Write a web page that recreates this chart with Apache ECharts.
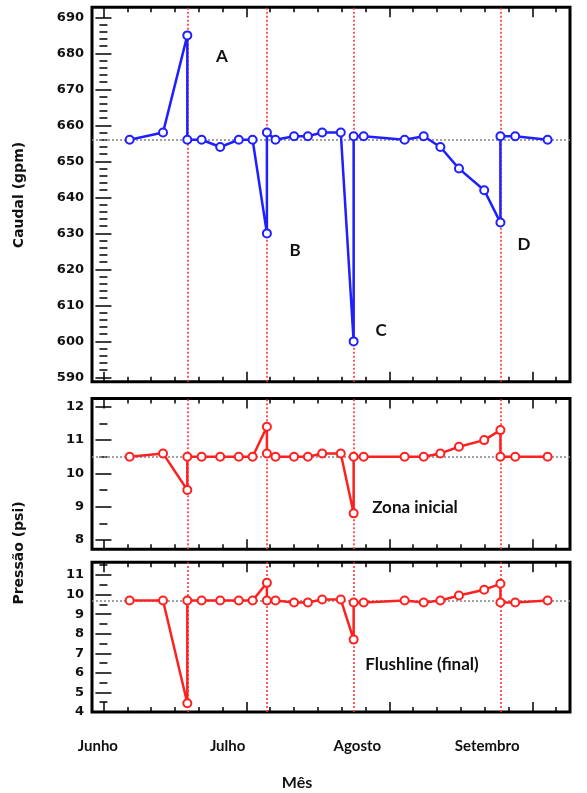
<!DOCTYPE html>
<html>
<head>
<meta charset="utf-8">
<script src="https://cdn.jsdelivr.net/npm/echarts@6/dist/echarts.min.js"></script>
<style>
  html, body { margin: 0; padding: 0; background: #fff; }
  #main { width: 587px; height: 793px; }
</style>
</head>
<body>
<div id="main"></div>
<script>
// dias contados a partir do início de junho
var dias = [5.5, 12.5, 17.6, 17.6, 20.6, 24.5, 28.4, 31.3, 34.3, 34.3, 36.1, 40, 42.9, 45.9, 49.8,
  52.5, 52.5, 54.6, 63.2, 67.2, 70.7, 74.6, 79.9, 83.3, 83.3, 86.4, 93.2];
var caudal = [656, 658, 685, 656, 656, 654, 656, 656, 630, 658, 656, 657, 657, 658, 658,
  600, 657, 657, 656, 657, 654, 648, 642, 633, 657, 657, 656];
var pressaoInicial = [10.5, 10.6, 9.5, 10.5, 10.5, 10.5, 10.5, 10.5, 11.4, 10.6, 10.5, 10.5, 10.5, 10.6, 10.6,
  8.8, 10.5, 10.5, 10.5, 10.5, 10.6, 10.8, 11.0, 11.3, 10.5, 10.5, 10.5];
var pressaoFinal = [9.7, 9.7, 4.45, 9.7, 9.7, 9.7, 9.7, 9.7, 10.6, 9.7, 9.7, 9.6, 9.6, 9.75, 9.75,
  7.7, 9.6, 9.6, 9.7, 9.6, 9.7, 9.95, 10.25, 10.55, 9.6, 9.6, 9.7];
var eventos = [17.6, 34.3, 52.5, 83.3];
var referencias = [656, 10.5, 9.7];
var meses = ["Junho", "Julho", "Agosto", "Setembro"];
var caudalTicks = [590, 600, 610, 620, 630, 640, 650, 660, 670, 680, 690];
var pressaoInicialTicks = [8, 9, 10, 11, 12];
var pressaoFinalTicks = [4, 5, 6, 7, 8, 9, 10, 11];
var xTicks = [0, 30, 60, 90];

function range(a, b, step) {
  var out = [];
  for (var v = a; v <= b + 1e-9; v += step) out.push(Math.round(v * 100) / 100);
  return out;
}

var xMin = -2.4, xMax = 97.9;
var paineis = [
  { top: 7.3, height: 374.4, min: 588.8, max: 692.8, ticks: caudalTicks, minor: range(590, 690, 2), data: caudal, color: "#1f1fff" },
  { top: 398.5, height: 150.8, min: 7.72, max: 12.25, ticks: pressaoInicialTicks, minor: range(8, 12, 0.5), data: pressaoInicial, color: "#ff2020" },
  { top: 562.3, height: 149.7, min: 4.0, max: 11.65, ticks: pressaoFinalTicks, minor: range(4, 11.5, 0.5), data: pressaoFinal, color: "#ff2020" },
];

var tickLine = { color: "#000", width: 1.5 };
var grids = [], xAxes = [], yAxes = [], series = [];

paineis.forEach(function (p, g) {
  grids.push({
    left: 92, right: 17, top: p.top, height: p.height,
    show: true, borderColor: "#000", borderWidth: 3, backgroundColor: "#fff",
    outerBoundsMode: "none",
  });
  ["bottom", "top"].forEach(function (pos) {
    xAxes.push({ gridIndex: g, type: "value", position: pos, min: xMin, max: xMax,
      axisLine: { show: false }, splitLine: { show: false }, axisLabel: { show: false },
      axisTick: { inside: true, length: 10, customValues: xTicks, lineStyle: tickLine } });
    xAxes.push({ gridIndex: g, type: "value", position: pos, min: xMin, max: xMax,
      axisLine: { show: false }, splitLine: { show: false }, axisLabel: { show: false },
      axisTick: { inside: true, length: 5, customValues: range(0, 95, 5), lineStyle: tickLine } });
  });
  ["left", "right"].forEach(function (pos) {
    yAxes.push({ gridIndex: g, type: "value", position: pos, min: p.min, max: p.max,
      axisLine: { show: false }, splitLine: { show: false },
      axisLabel: { show: pos == "left", customValues: p.ticks, margin: 8,
        color: "#111", fontFamily: "DejaVu Sans", fontWeight: "bold", fontSize: 13 },
      axisTick: { inside: true, length: 8, customValues: p.ticks, lineStyle: tickLine } });
    yAxes.push({ gridIndex: g, type: "value", position: pos, min: p.min, max: p.max,
      axisLine: { show: false }, splitLine: { show: false }, axisLabel: { show: false },
      axisTick: { inside: true, length: 4, customValues: p.minor, lineStyle: tickLine } });
  });

  var linhas = eventos.map(function (d) {
    return { xAxis: d, lineStyle: { color: "#ff3030", width: 1.6, type: [2, 2] } };
  });
  linhas.push({ yAxis: referencias[g], lineStyle: { color: "#8a8a8a", width: 1.6, type: [2, 2] } });

  series.push({
    type: "line",
    xAxisIndex: g * 4,
    yAxisIndex: g * 4,
    data: dias.map(function (d, i) { return [d, p.data[i]]; }),
    symbol: "emptyCircle",
    symbolSize: 8,
    z: 3,
    lineStyle: { color: p.color, width: 2.5 },
    itemStyle: { color: p.color, borderColor: p.color, borderWidth: 2 },
    markLine: { silent: true, symbol: "none", z: 1, label: { show: false }, data: linhas },
  });
});

// grelha invisível só para os nomes dos meses
grids.push({ left: 33, width: 519, top: 736, height: 1, show: false, outerBoundsMode: "none" });
xAxes.push({ gridIndex: 3, type: "category", data: meses, axisLine: { show: false }, axisTick: { show: false },
  axisLabel: { margin: 2, color: "#111", fontFamily: "Lato", fontWeight: "bold", fontSize: 15 } });
yAxes.push({ gridIndex: 3, type: "value", show: false });

function texto(t, x, y, size, extra) {
  return Object.assign({ type: "text", x: x, y: y, z: 10,
    style: { text: t, fill: "#111", font: "bold " + size + "px Lato", align: "center", verticalAlign: "middle" } }, extra || {});
}

var option = {
  backgroundColor: "#fff",
  animation: false,
  grid: grids,
  xAxis: xAxes,
  yAxis: yAxes,
  series: series,
  graphic: [
    { type: "text", x: 19, y: 195, rotation: Math.PI / 2, z: 10,
      style: { text: "Caudal (gpm)", fill: "#111", font: "bold 14px 'DejaVu Sans'", align: "center", verticalAlign: "middle" } },
    { type: "text", x: 19, y: 553, rotation: Math.PI / 2, z: 10,
      style: { text: "Pressão (psi)", fill: "#111", font: "bold 14px 'DejaVu Sans'", align: "center", verticalAlign: "middle" } },
    texto("Mês", 297, 783, 16),
    texto("A", 222, 57, 17),
    texto("B", 295, 251, 17),
    texto("C", 381, 331, 17),
    texto("D", 524, 245, 17),
    texto("Zona inicial", 415, 508, 17),
    texto("Flushline (final)", 422, 665, 17),
  ],
};

var myChart = echarts.init(document.getElementById("main"));
myChart.setOption(option);
</script>
</body>
</html>
